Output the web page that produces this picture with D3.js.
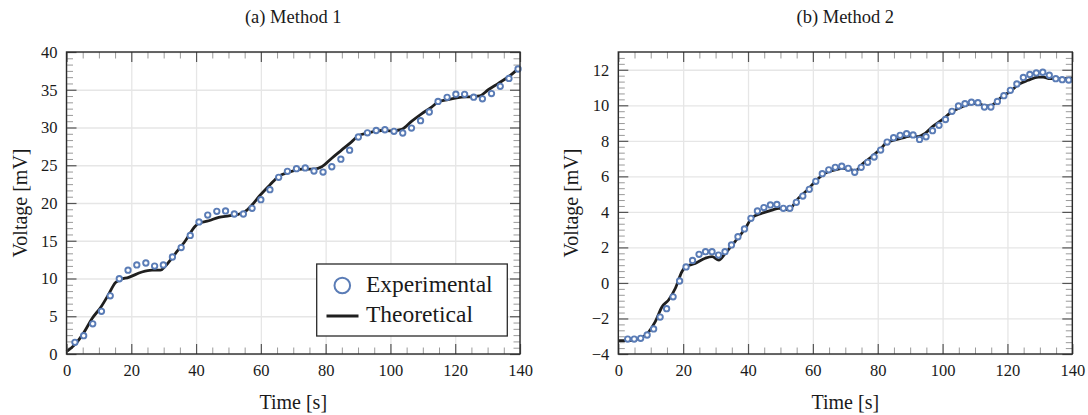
<!DOCTYPE html>
<html><head><meta charset="utf-8">
<script src="https://cdn.jsdelivr.net/npm/d3@7"></script>
<style>
body{margin:0;background:#fff}
text{font-family:"Liberation Serif","Times New Roman",serif;fill:#1a1a1a}
</style>
</head><body>
<svg id="c" width="1088" height="415"></svg>
<script>
// ---------- DATA ----------
const titles = ["(a) Method 1", "(b) Method 2"];
const xLabel = "Time [s]";
const yLabel = "Voltage [mV]";
const legendLabels = ["Experimental", "Theoretical"];
const xTicks = [0, 20, 40, 60, 80, 100, 120, 140];
const leftYTicks = [0, 5, 10, 15, 20, 25, 30, 35, 40];
const rightYTicks = [-4, -2, 0, 2, 4, 6, 8, 10, 12];

const leftExpT = [2.6, 5.3, 8.1, 10.8, 13.5, 16.3, 19.0, 21.7, 24.5, 27.2,
  29.9, 32.7, 35.4, 38.2, 40.9, 43.6, 46.4, 49.1, 51.8, 54.6,
  57.3, 60.0, 62.8, 65.5, 68.2, 71.0, 73.7, 76.4, 79.2, 81.9,
  84.7, 87.4, 90.1, 92.9, 95.6, 98.3, 101.1, 103.8, 106.5, 109.3,
  112.0, 114.7, 117.5, 120.2, 122.9, 125.7, 128.4, 131.2, 133.9, 136.6, 139.4];
const leftExpV = [1.55, 2.43, 4.0, 5.65, 7.7, 9.97, 11.1, 11.8, 12.05, 11.65,
  11.8, 12.85, 14.1, 15.7, 17.5, 18.4, 18.9, 18.95, 18.54, 18.54,
  19.3, 20.44, 21.77, 23.4, 24.2, 24.55, 24.64, 24.24, 24.1, 24.8,
  25.8, 27.0, 28.74, 29.3, 29.6, 29.7, 29.5, 29.27, 29.93, 30.9,
  32.05, 33.45, 34.0, 34.42, 34.4, 34.02, 33.8, 34.5, 35.45, 36.5, 37.75];

const leftThT = [0, 2.7, 5.3, 7.9, 10.7, 13.0, 15.1, 16.3, 19.2, 23.3,
  26.4, 29.0, 30.5, 33.6, 36.7, 39.8, 40.8, 43.9, 47.0, 50.1,
  53.0, 55.1, 57.2, 59.7, 62.8, 65.4, 68.5, 72.6, 76.7, 78.8,
  81.8, 84.9, 88.0, 90.1, 93.2, 97.3, 100.4, 103.5, 106.5, 109.6,
  112.7, 114.8, 117.8, 120.9, 125.1, 127.6, 130.2, 133.3, 136.4, 140];
const leftThV = [0.3, 1.3, 2.8, 4.7, 6.27, 7.9, 9.45, 9.8, 10.15, 10.86,
  11.1, 11.1, 11.65, 13.3, 15.0, 16.95, 17.3, 17.65, 18.1, 18.3,
  18.5, 18.85, 19.7, 21.0, 22.4, 23.5, 24.05, 24.5, 24.5, 24.8,
  25.9, 27.0, 28.1, 28.9, 29.3, 29.6, 29.55, 29.75, 30.8, 31.8,
  32.7, 33.4, 33.7, 33.95, 34.1, 34.2, 35.0, 35.85, 36.7, 38.0];

const rightExpT = [2.9, 4.9, 6.9, 8.9, 10.9, 12.9, 14.9, 16.9, 18.9, 20.9,
  22.9, 24.9, 26.9, 28.9, 30.9, 32.9, 34.9, 36.9, 38.9, 40.9,
  42.9, 44.9, 46.9, 48.9, 50.9, 52.9, 54.9, 56.9, 58.9, 60.9,
  62.9, 64.9, 66.9, 68.9, 70.9, 72.9, 74.9, 76.9, 78.9, 80.9,
  82.9, 84.9, 86.9, 88.9, 90.9, 92.9, 94.9, 96.9, 98.9, 100.9,
  102.9, 104.9, 106.9, 108.9, 110.9, 112.9, 114.9, 116.9, 118.9, 120.9,
  122.9, 124.9, 126.9, 128.9, 130.9, 132.9, 134.9, 136.9, 138.9];
const rightExpV = [-3.16, -3.16, -3.12, -2.93, -2.59, -1.92, -1.45, -0.78, 0.11, 0.9,
  1.27, 1.61, 1.76, 1.76, 1.57, 1.76, 2.14, 2.6, 3.04, 3.64,
  4.05, 4.24, 4.39, 4.42, 4.2, 4.2, 4.54, 4.89, 5.27, 5.72,
  6.15, 6.37, 6.51, 6.57, 6.45, 6.23, 6.51, 6.79, 7.09, 7.48,
  7.93, 8.18, 8.31, 8.4, 8.33, 8.08, 8.23, 8.57, 8.87, 9.2,
  9.66, 9.96, 10.09, 10.17, 10.15, 9.9, 9.9, 10.22, 10.54, 10.84,
  11.2, 11.57, 11.74, 11.82, 11.86, 11.69, 11.5, 11.44, 11.42];

const rightThT = [0, 2.2, 5.0, 7.5, 9.4, 11.4, 13.5, 15.5, 17.6, 19.6,
  20.7, 23.7, 26.8, 28.9, 31.0, 33.0, 36.1, 39.2, 41.2, 44.3,
  47.4, 49.5, 52.4, 55.5, 58.6, 61.2, 63.7, 66.8, 69.4, 71.4,
  73.0, 75.5, 78.1, 81.2, 82.8, 85.3, 88.4, 91.0, 92.5, 94.6,
  97.1, 99.7, 102.8, 105.9, 109.0, 111.0, 113.1, 115.1, 118.2, 121.3,
  123.3, 126.4, 129.5, 131.0, 133.1, 135.7, 140];
const rightThV = [-3.25, -3.25, -3.2, -3.05, -2.75, -2.18, -1.34, -0.96, -0.3, 0.63,
  0.91, 1.1, 1.39, 1.48, 1.29, 1.67, 2.36, 3.08, 3.67, 3.92,
  4.1, 4.2, 4.12, 4.76, 5.29, 5.8, 6.17, 6.36, 6.45, 6.41,
  6.3, 6.73, 7.1, 7.61, 7.92, 8.05, 8.2, 8.29, 8.23, 8.42,
  8.83, 9.17, 9.62, 9.9, 10.09, 10.09, 9.96, 10.0, 10.47, 10.84,
  11.16, 11.41, 11.59, 11.59, 11.5, 11.5, 11.53];

// ---------- DRAW ----------
const FONT = '"Liberation Serif","Times New Roman",serif';
const svg = d3.select("#c");
svg.append("rect").attr("width", 1088).attr("height", 415).attr("fill", "#fff");

const TOP = 52, BOTTOM = 354;
const BLUE = "#5a7cb6", LINE = "#1f1f1f";
const fmt = d => d < 0 ? "\u2212" + Math.abs(d) : String(d);

function minorTicks(domain, major, n) {
  const out = [];
  for (let i = 0; i < major.length - 1; i++) {
    const a = major[i], b = major[i + 1];
    for (let k = 1; k <= n; k++) out.push(a + (b - a) * k / (n + 1));
  }
  const step = major[1] - major[0];
  const last = major[major.length - 1];
  for (let k = 1; k <= n; k++) {
    const v = last + step * k / (n + 1);
    if (v < domain[1] - 1e-9) out.push(v);
  }
  return out;
}

function panel(o) {
  const x = d3.scaleLinear().domain([0, 140]).range([o.x0, o.x1]);
  const y = d3.scaleLinear().domain(o.yDomain).range([BOTTOM, TOP]);
  const g = svg.append("g");
  const W = o.x1 - o.x0, H = BOTTOM - TOP;

  // grid
  const gx = g.append("g").attr("transform", `translate(0,${BOTTOM})`)
    .call(d3.axisBottom(x).tickValues(xTicks).tickSize(-H).tickFormat(""));
  const gy = g.append("g").attr("transform", `translate(${o.x0},0)`)
    .call(d3.axisLeft(y).tickValues(o.yTicks).tickSize(-W).tickFormat(""));
  [gx, gy].forEach(s => {
    s.select(".domain").remove();
    s.selectAll("line").attr("stroke", "#e6e6e6").attr("stroke-width", 1.3);
  });

  const xMinor = minorTicks([0, 140], xTicks, 3);
  const yMinor = minorTicks(o.yDomain, o.yTicks, 5);

  function tickAxis(axisFn, scale, vals, size, color, width, tr, labels, pad) {
    const a = g.append("g").attr("transform", tr)
      .call(axisFn(scale).tickValues(vals).tickSize(size).tickPadding(pad || 3)
        .tickFormat(labels ? fmt : ""));
    a.attr("font-family", FONT);
    a.select(".domain").remove();
    a.selectAll("line").attr("stroke", color).attr("stroke-width", width);
    a.selectAll("text").attr("font-size", 16.5).attr("font-family", FONT).attr("fill", "#1a1a1a");
    return a;
  }
  // minor ticks (all sides)
  const mc = "#9a9a9a";
  tickAxis(d3.axisBottom, x, xMinor, -6.5, mc, 1, `translate(0,${BOTTOM})`);
  tickAxis(d3.axisTop, x, xMinor, -6.5, mc, 1, `translate(0,${TOP})`);
  tickAxis(d3.axisLeft, y, yMinor, -6.5, mc, 1, `translate(${o.x0},0)`);
  tickAxis(d3.axisRight, y, yMinor, -6.5, mc, 1, `translate(${o.x1},0)`);

  // theoretical line
  const line = d3.line().x(d => x(d[0])).y(d => y(d[1])).curve(d3.curveMonotoneX);
  g.append("path").datum(o.thT.map((t, i) => [t, o.thV[i]]))
    .attr("d", line).attr("fill", "none").attr("stroke", LINE)
    .attr("stroke-width", 2.8).attr("stroke-linejoin", "round");
  // experimental points
  g.append("g").selectAll("circle").data(o.expT.map((t, i) => [t, o.expV[i]]))
    .join("circle").attr("cx", d => x(d[0])).attr("cy", d => y(d[1]))
    .attr("r", 2.7).attr("fill", "#fff").attr("stroke", BLUE).attr("stroke-width", 1.9);

  // major ticks with labels
  const mj = "#555";
  tickAxis(d3.axisBottom, x, xTicks, -10, mj, 1.2, `translate(0,${BOTTOM})`, true, 10);
  tickAxis(d3.axisTop, x, xTicks, -10, mj, 1.2, `translate(0,${TOP})`);
  tickAxis(d3.axisLeft, y, o.yTicks, -10, mj, 1.2, `translate(${o.x0},0)`, true, 9);
  tickAxis(d3.axisRight, y, o.yTicks, -10, mj, 1.2, `translate(${o.x1},0)`);

  // frame
  g.append("rect").attr("x", o.x0).attr("y", TOP).attr("width", W).attr("height", H)
    .attr("fill", "none").attr("stroke", "#2a2a2a").attr("stroke-width", 1.4);

  // labels
  g.append("text").attr("x", (o.x0 + o.x1) / 2).attr("y", 23).attr("text-anchor", "middle")
    .attr("font-family", FONT).attr("font-size", 18.5).text(o.title);
  g.append("text").attr("x", (o.x0 + o.x1) / 2).attr("y", 409).attr("text-anchor", "middle")
    .attr("font-family", FONT).attr("font-size", 20).text(xLabel);
  g.append("text").attr("transform", `translate(${o.ylx},${(TOP + BOTTOM) / 2}) rotate(-90)`)
    .attr("text-anchor", "middle").attr("font-family", FONT).attr("font-size", 20).text(yLabel);
  return g;
}

panel({ x0: 66.5, x1: 520, yDomain: [0, 40], yTicks: leftYTicks,
  expT: leftExpT, expV: leftExpV, thT: leftThT, thV: leftThV, title: titles[0], ylx: 27 });
panel({ x0: 618.3, x1: 1072.3, yDomain: [-4, 13], yTicks: rightYTicks,
  expT: rightExpT, expV: rightExpV, thT: rightThT, thV: rightThV, title: titles[1], ylx: 578 });

// legend (left panel)
const lg = svg.append("g").attr("font-family", FONT);
lg.append("rect").attr("x", 316.7).attr("y", 264).attr("width", 190.6).attr("height", 72)
  .attr("fill", "#fff").attr("stroke", "#2a2a2a").attr("stroke-width", 1.3);
lg.append("circle").attr("cx", 342.3).attr("cy", 285.5).attr("r", 7.8)
  .attr("fill", "#fff").attr("stroke", BLUE).attr("stroke-width", 2);
lg.append("line").attr("x1", 326.5).attr("x2", 358.5).attr("y1", 316).attr("y2", 316)
  .attr("stroke", LINE).attr("stroke-width", 3);
lg.append("text").attr("x", 366).attr("y", 292).attr("font-family", FONT).attr("font-size", 23.5).text(legendLabels[0]);
lg.append("text").attr("x", 366).attr("y", 322).attr("font-family", FONT).attr("font-size", 23.5).text(legendLabels[1]);
</script>
</body></html>
